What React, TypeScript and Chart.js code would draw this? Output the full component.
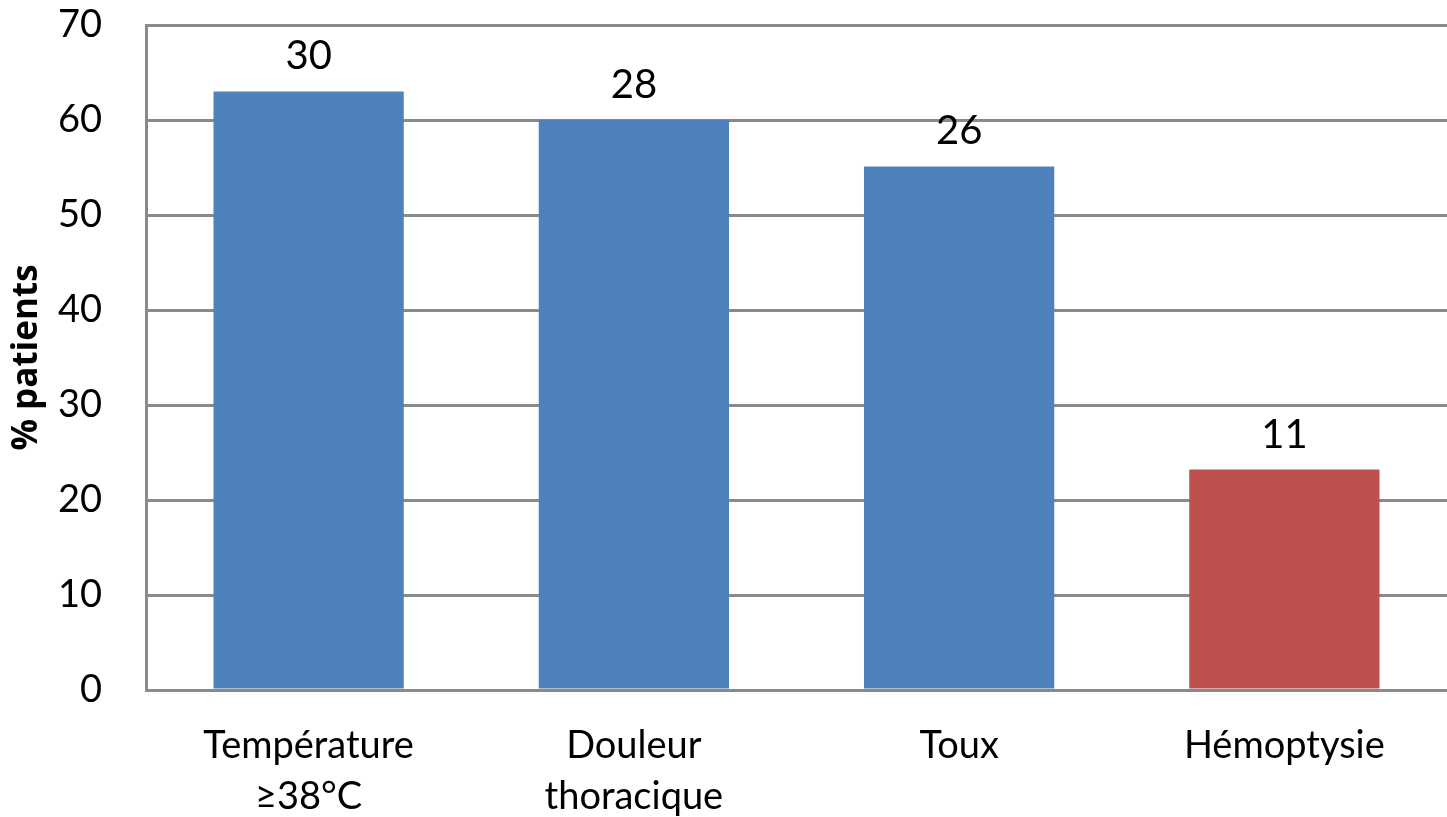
import React, { useEffect, useRef } from "react";
import { Chart, registerables } from "chart.js";

Chart.register(...registerables);

const categories: (string | string[])[] = [
  ["Température", "≥38°C"],
  ["Douleur", "thoracique"],
  "Toux",
  "Hémoptysie",
];
const percentValues = [63, 60, 55.1, 23.2];
const countLabels = ["30", "28", "26", "11"];
const barColors = ["#4F81BD", "#4F81BD", "#4F81BD", "#C0504D"];
const yTitle = "% patients";

const FONT = "Lato, 'Open Sans', sans-serif";
const GRID = "#8a8a8a";

const countPlugin = {
  id: "countLabels",
  afterDatasetsDraw(chart: any) {
    const ctx = chart.ctx;
    const meta = chart.getDatasetMeta(0);
    ctx.save();
    ctx.font = `40px ${FONT}`;
    ctx.fillStyle = "#000";
    ctx.textAlign = "center";
    ctx.textBaseline = "middle";
    meta.data.forEach((bar: any, i: number) => {
      ctx.fillText(countLabels[i], bar.x, bar.y - 35);
    });
    ctx.restore();
  },
};

export default function App() {
  const ref = useRef<HTMLCanvasElement>(null);
  useEffect(() => {
    document.body.style.margin = "0";
    const chart = new Chart(ref.current!, {
      type: "bar",
      data: {
        labels: categories,
        datasets: [
          {
            data: percentValues,
            backgroundColor: barColors,
            barPercentage: 0.585,
            categoryPercentage: 1,
          },
        ],
      },
      options: {
        animation: false,
        responsive: false,
        maintainAspectRatio: false,
        layout: { padding: { top: 25, right: 0, left: 0, bottom: 0 } },
        plugins: { legend: { display: false }, tooltip: { enabled: false } },
        scales: {
          x: {
            grid: { display: false, drawTicks: false },
            border: { color: GRID, width: 3 },
            ticks: {
              color: "#000",
              font: { family: FONT, size: 38, lineHeight: 1.35 },
              padding: 30,
              maxRotation: 0,
              autoSkip: false,
            },
            afterFit(scale: any) {
              scale.height = 127;
              scale.paddingLeft = 0;
              scale.paddingRight = 0;
            },
          },
          y: {
            min: 0,
            max: 70,
            grid: { color: GRID, lineWidth: 3, drawTicks: false },
            border: { color: GRID, width: 3 },
            ticks: {
              stepSize: 10,
              color: "#000",
              font: { family: FONT, size: 38 },
              padding: 44,
            },
            title: {
              display: true,
              text: yTitle,
              color: "#000",
              font: { family: "'Open Sans', Lato, sans-serif", size: 35, weight: "bold" },
              padding: { top: 6, bottom: 0 },
            },
            afterFit(scale: any) {
              scale.width = 146;
              scale.paddingTop = 0;
              scale.paddingBottom = 0;
            },
          },
        },
      },
      plugins: [countPlugin],
    });
    return () => chart.destroy();
  }, []);
  return (
    <div style={{ position: "absolute", left: 0, top: 0, width: 1447, height: 817, background: "#fff" }}>
      <canvas ref={ref} width={1447} height={817} />
    </div>
  );
}
